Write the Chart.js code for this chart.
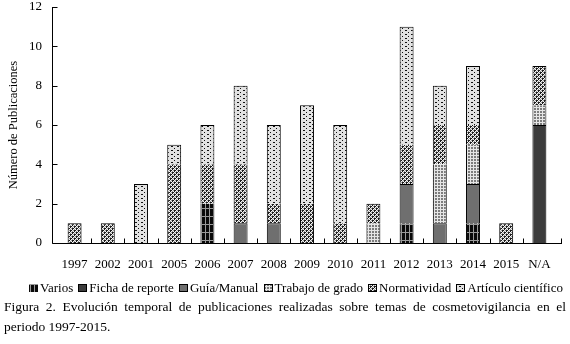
<!DOCTYPE html>
<html><head><meta charset="utf-8">
<script src="https://cdn.jsdelivr.net/npm/chart.js@4.4.0/dist/chart.umd.min.js"></script>
<style>
html,body{margin:0;padding:0;background:#fff;width:570px;height:344px;overflow:hidden;font-family:"Liberation Serif","DejaVu Serif",serif;color:#000;}
#c{position:absolute;left:0;top:0;}
#legend{position:absolute;left:29px;top:279px;width:534px;height:18px;display:flex;justify-content:space-between;align-items:center;font-size:13px;white-space:nowrap;}
#legend .it{display:flex;align-items:center;}
#legend canvas{margin-right:2px;}
#cap{position:absolute;left:4px;top:297px;width:562px;font-size:13.5px;line-height:20px;}
#cap .l1{text-align:justify;text-align-last:justify;white-space:nowrap;}
</style></head>
<body>
<canvas id="c" width="570" height="280"></canvas>
<div id="legend"></div>
<div id="cap"><div class="l1">Figura 2. Evolución temporal de publicaciones realizadas sobre temas de cosmetovigilancia en el</div><div>periodo 1997-2015.</div></div>
<script>
const categories = ['1997','2002','2001','2005','2006','2007','2008','2009','2010','2011','2012','2013','2014','2015','N/A'];
const varios       = [0,0,0,0,2,0,0,0,0,0,1,0,1,0,0];
const ficha        = [0,0,0,0,0,0,0,0,0,0,0,0,0,0,6];
const guia         = [0,0,0,0,0,1,1,0,0,0,2,1,2,0,0];
const trabajo      = [0,0,0,0,0,0,0,0,0,1,0,3,2,0,1];
const normatividad = [1,1,0,4,2,3,1,2,1,1,2,2,1,1,2];
const articulo     = [0,0,3,1,2,4,4,5,5,0,6,2,3,0,0];
const seriesLabels = ['Varios','Ficha de reporte','Guía/Manual','Trabajo de grado','Normatividad','Artículo científico'];
const yTicks = [0,2,4,6,8,10,12];

const canvas = document.getElementById('c');
const ctx = canvas.getContext('2d');
function makePattern(map, colors, target){
  const h = map.length, w = map[0].length;
  const c = document.createElement('canvas'); c.width = w; c.height = h;
  const g = c.getContext('2d');
  for(let y=0;y<h;y++) for(let x=0;x<w;x++){ g.fillStyle = colors[map[y][x]]; g.fillRect(x,y,1,1); }
  return (target||ctx).createPattern(c,'repeat');
}
const patDefs = [
  {map:["GGGGGGGG","KGKKKGKK","KGKKKGKK","KGKKKGKK","KGKKKGKK","KGKKKGKK","KGKKKGKK","KGKKKGKK"], colors:{G:'#9a9a9a',K:'#0a0a0a'}},
  {map:["D"], colors:{D:'#3c3c3c'}},
  {map:["M"], colors:{M:'#6f6f6f'}},
  {map:["GGW","GGW","WWW"], colors:{G:'#7c7c7c',W:'#e6e6e6'}},
  {map:["KKWG","KWGW","WGKK","GWKW"], colors:{K:'#1a1a1a',W:'#f4f4f4',G:'#9a9a9a'}},
  {map:["KLLLLL","LLLLLL","LLLKKL","LLLLLL"], colors:{K:'#111',L:'#e2e2e2'}}
];
const fills = patDefs.map(p => makePattern(p.map, p.colors));
const seriesData = [varios, ficha, guia, trabajo, normatividad, articulo];

function topIndex(i){ let t=-1; seriesData.forEach((s,d)=>{ if(s[i]>0) t=d; }); return t; }

const axesPlugin = {
  id:'axes',
  afterDatasetsDraw(chart){
    const {ctx:c, chartArea:a, scales:{x, y}} = chart;
    const x0 = Math.round(a.left-6)+0.5, x1 = a.right+6;
    const y0 = Math.round(y.getPixelForValue(0))+0.5;
    c.save(); c.strokeStyle='#000'; c.lineWidth=1;
    c.beginPath();
    c.moveTo(x0, Math.round(y.getPixelForValue(12))); c.lineTo(x0, y0); c.lineTo(x1, y0);
    y.ticks.forEach(t => { const py = Math.round(y.getPixelForValue(t.value))+0.5; c.moveTo(x0, py); c.lineTo(x0+5, py); });
    for(let i=0;i<categories.length-1;i++){
      const bx = Math.round((x.getPixelForValue(i)+x.getPixelForValue(i+1))/2)+0.5;
      c.moveTo(bx, y0); c.lineTo(bx, y0-5);
    }
    const ex = Math.round(x1)-0.5; c.moveTo(ex, y0); c.lineTo(ex, y0-5);
    c.stroke(); c.restore();
  }
};

const serif = '"Liberation Serif","DejaVu Serif",serif';
new Chart(ctx, {
  type:'bar',
  data:{ labels: categories, datasets: seriesLabels.map((l,d)=>({label:l, data: seriesData[d], backgroundColor: fills[d]})) },
  options:{
    responsive:false, animation:false,
    layout:{padding:{top:7,right:14,bottom:7,left:0}},
    plugins:{legend:{display:false}, tooltip:{enabled:false}},
    datasets:{bar:{
      barPercentage:0.42, categoryPercentage:1, borderColor:'#000', borderSkipped:false,
      borderWidth:(c)=>{ const i=c.dataIndex, d=c.datasetIndex; const top = topIndex(i)===d; const solid = d===1||d===2; return {left:1,right:1,top:(top||solid)?1:0,bottom:0}; }
    }},
    scales:{
      x:{stacked:true, grid:{display:false, drawTicks:false}, border:{display:false},
         ticks:{font:{family:serif,size:13}, color:'#000', padding:14, maxRotation:0, autoSkip:false},
         afterFit:(s)=>{ s.height = 30; s.paddingLeft = 0; s.paddingRight = 0; }},
      y:{stacked:true, min:0, max:12,
         afterBuildTicks:(s)=>{ s.ticks = yTicks.map(v=>({value:v})); },
         grid:{display:false, drawTicks:false}, border:{display:false},
         ticks:{font:{family:serif,size:13}, color:'#000', padding:16},
         title:{display:true, text:'Número de Publicaciones', font:{family:serif,size:12.5}, color:'#000', padding:{top:6,bottom:0}},
         afterFit:(s)=>{ s.width = 58; s.paddingTop = 0; s.paddingBottom = 0; }}
    }
  },
  plugins:[axesPlugin]
});

const legend = document.getElementById('legend');
seriesLabels.forEach((l,d)=>{
  const it = document.createElement('div'); it.className='it';
  const sw = document.createElement('canvas'); sw.width=9; sw.height=8;
  const g = sw.getContext('2d');
  g.fillStyle = makePattern(patDefs[d].map, patDefs[d].colors, g); g.fillRect(0,0,9,8);
  if(d>0){ g.strokeStyle='#000'; g.lineWidth=1; g.strokeRect(0.5,0.5,8,7); }
  const sp = document.createElement('span'); sp.textContent = l;
  it.appendChild(sw); it.appendChild(sp); legend.appendChild(it);
});
</script>
</body></html>
